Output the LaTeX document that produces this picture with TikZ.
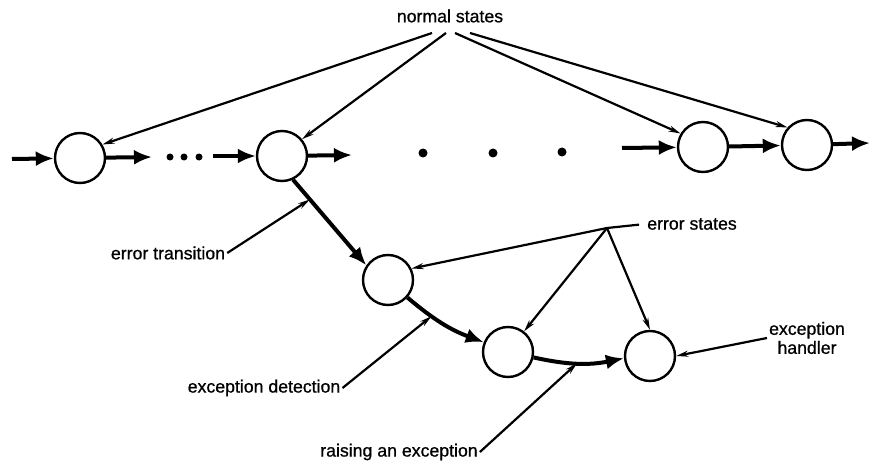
\documentclass[tikz,border=0pt]{standalone}
\usepackage{fontspec}
\setmainfont{Liberation Sans}
\newfontfamily\lblfont{Liberation Sans}[FakeBold=0.8]
\usetikzlibrary{positioning}
\usetikzlibrary{arrows.meta}

\begin{document}
\begin{tikzpicture}[
	x=1pt, y=1pt,
	state/.style={circle, draw=black, line width=2.4pt, minimum size=50pt, inner sep=0pt},
	lbl/.style={font=\lblfont\fontsize{17.7}{19}\selectfont, inner sep=2pt, align=center},
	sdot/.style={circle, fill=black, inner sep=0pt, minimum size=7pt},
	bdot/.style={circle, fill=black, inner sep=0pt, minimum size=9pt},
	flow/.style={line width=4pt, -{Latex[length=18pt,width=15pt]}},
	ptr/.style={line width=2.2pt, -{Stealth[length=12pt,width=6pt]}},
	]
	\useasboundingbox (0,0) rectangle (871,467);

	%Nodes
	\node[state] (c1) at (80,309)  {};
	\node[state] (c2) at (282,311) {};
	\node[state] (c3) at (703,320) {};
	\node[state] (c4) at (807,322) {};
	\node[state] (e1) at (388,187) {};
	\node[state] (e2) at (508,115) {};
	\node[state] (e3) at (650,111) {};

	\node[sdot] (d1) at (170,310) {};
	\node[sdot] (d2) at (184,310) {};
	\node[sdot] (d3) at (199,310) {};
	\node[bdot] (d4) at (423,314) {};
	\node[bdot] (d5) at (493,314) {};
	\node[bdot] (d6) at (562,315) {};

	\node[lbl] (ns) at (450,451) {normal states};
	\node[lbl] (es) at (692,243) {error states};
	\node[lbl] (et) at (168,214) {error transition};
	\node[lbl] (ed) at (264,79)  {exception detection};
	\node[lbl] (ra) at (399,15)  {raising an exception};
	\node[lbl] (eh) at (807,129) {exception\\handler};

	\coordinate (in1) at (12,308);
	\coordinate (c1o) at (152,310);
	\coordinate (c2i) at (213,311);
	\coordinate (c2o) at (352,312);
	\coordinate (c3i) at (622,319);
	\coordinate (c4o) at (870,324);
	\coordinate (ns1) at (432,434);
	\coordinate (ns2) at (446,434);
	\coordinate (ns3) at (455,434);
	\coordinate (ns4) at (470,434);
	\coordinate (esj) at (607,239);

	%Lines
	\draw[flow] (in1) -- (c1);
	\draw[flow] (c1) -- (c1o);
	\draw[flow] (c2i) -- (c2);
	\draw[flow] (c2) -- (c2o);
	\draw[flow] (c3i) -- (c3);
	\draw[flow] (c3) -- (c4);
	\draw[flow] (c4) -- (c4o);

	\draw[flow] (c2.-65) -- coordinate[pos=0.23] (etp) (e1.146);
	\draw[flow] (e1.-42) to[bend right=10] coordinate[pos=0.33] (edp) (e2.158);
	\draw[flow] (e2.-12) to[bend right=12] coordinate[pos=0.48] (rap) (e3.185);

	\draw[ptr] (ns1) -- (c1.31);
	\draw[ptr] (ns2) -- (c2.40);
	\draw[ptr] (ns3) -- (c3.149);
	\draw[ptr] (ns4) -- (c4.138);

	\draw[line width=2.2pt, shorten <=6pt] (es.west) -- (esj);
	\draw[ptr] (esj) -- (e1.26);
	\draw[ptr] (esj) -- (e2.52);
	\draw[ptr] (esj) -- (e3.north);

	\draw[ptr] (et.east) -- (etp);
	\draw[ptr] (ed.east) -- (edp);
	\draw[ptr] (ra.east) -- (rap);
	\draw[ptr] (eh.west) -- (e3.east);
\end{tikzpicture}
\end{document}
